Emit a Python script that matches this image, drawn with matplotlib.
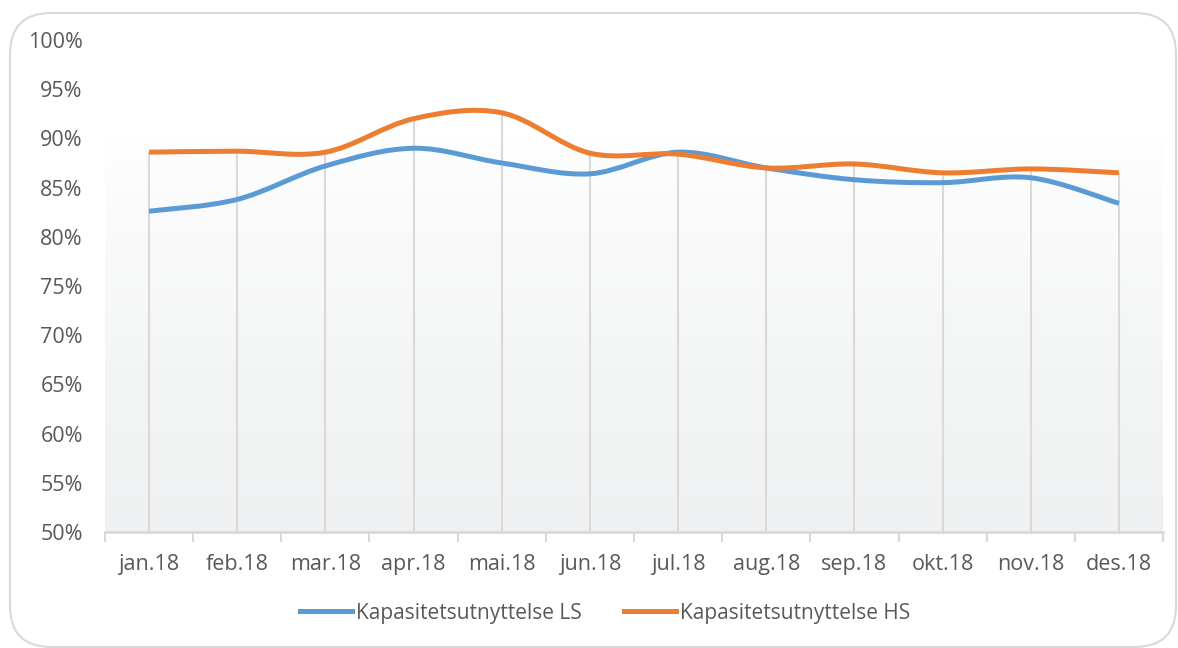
import numpy as np
import matplotlib
matplotlib.use("Agg")
import matplotlib.pyplot as plt
from matplotlib.path import Path
from matplotlib.patches import PathPatch, FancyBboxPatch
from matplotlib.lines import Line2D

categories = ["jan.18", "feb.18", "mar.18", "apr.18", "mai.18", "jun.18",
              "jul.18", "aug.18", "sep.18", "okt.18", "nov.18", "des.18"]
ls_values = [82.6, 83.8, 87.2, 89.0, 87.5, 86.4, 88.6, 87.0, 85.8, 85.5, 86.0, 83.4]
hs_values = [88.6, 88.7, 88.6, 92.0, 92.6, 88.5, 88.4, 87.0, 87.4, 86.5, 86.9, 86.5]
series_names = ["Kapasitetsutnyttelse LS", "Kapasitetsutnyttelse HS"]
yticks = [50, 55, 60, 65, 70, 75, 80, 85, 90, 95, 100]

BLUE = "#5B9BD5"
ORANGE = "#ED7D31"
TXT = "#595959"
GRID = "#d9d9d9"

plt.rcParams["font.family"] = ["Open Sans", "DejaVu Sans"]

W, H = 1178, 648
fig = plt.figure(figsize=(W / 100, H / 100), dpi=100)

# outer rounded border
border = FancyBboxPatch((10 / W, 1 / H), 1166 / W, 634 / H,
                        boxstyle="round,pad=0,rounding_size=0.035",
                        transform=fig.transFigure, fill=False,
                        edgecolor="#d9d9d9", linewidth=1.5,
                        mutation_aspect=W / H)
fig.patches.append(border)

ax = fig.add_axes([105 / W, (H - 532) / H, (1163 - 105) / W, (532 - 40) / H])
x = np.arange(len(categories))
ax.set_xlim(-0.5, len(categories) - 0.5)
ax.set_ylim(50, 100)

# gradient background
grad = np.linspace(0, 1, 256).reshape(-1, 1)
top_c = np.array([1.0, 1.0, 1.0])
bot_c = np.array([0xee, 0xf0, 0xf1]) / 255.0
img = top_c + (bot_c - top_c) * (grad ** 0.8)
img = img.reshape(256, 1, 3)
ax.imshow(img, extent=[-0.5, len(categories) - 0.5, 50, 90.5], aspect="auto",
          zorder=0, origin="upper", interpolation="bilinear")

# drop lines
tops = np.maximum(ls_values, hs_values)
ax.vlines(x, 50, tops, colors=GRID, linewidth=1.5, zorder=1)


def smooth_path(xs, ys):
    xs = np.asarray(xs, float)
    ys = np.asarray(ys, float)
    n = len(xs)
    verts = [(xs[0], ys[0])]
    codes = [Path.MOVETO]
    for i in range(n - 1):
        i0 = max(i - 1, 0)
        i3 = min(i + 2, n - 1)
        c1 = (xs[i] + (xs[i + 1] - xs[i0]) / 6, ys[i] + (ys[i + 1] - ys[i0]) / 6)
        c2 = (xs[i + 1] - (xs[i3] - xs[i]) / 6, ys[i + 1] - (ys[i3] - ys[i]) / 6)
        verts += [c1, c2, (xs[i + 1], ys[i + 1])]
        codes += [Path.CURVE4] * 3
    return Path(verts, codes)


for vals, col in [(ls_values, BLUE), (hs_values, ORANGE)]:
    p = PathPatch(smooth_path(x, vals), facecolor="none", edgecolor=col,
                  linewidth=3.6, capstyle="butt", joinstyle="round", zorder=3)
    ax.add_patch(p)

for s in ["top", "right", "left"]:
    ax.spines[s].set_visible(False)
ax.spines["bottom"].set_color(GRID)
ax.spines["bottom"].set_linewidth(2)
ax.spines["bottom"].set_zorder(2)

ax.set_xticks(x)
ax.set_xticklabels(categories)
ax.set_xticks(np.arange(-0.5, len(categories)), minor=True)
ax.tick_params(axis="x", which="major", length=0, pad=16, labelsize=15.5, labelcolor=TXT)
ax.tick_params(axis="x", which="minor", length=7, width=1.5, color=GRID)
ax.set_yticks(yticks)
ax.set_yticklabels([f"{v}%" for v in yticks])
ax.tick_params(axis="y", length=0, pad=16, labelsize=15.5, labelcolor=TXT)

handles = [Line2D([], [], color=BLUE, linewidth=3.6),
           Line2D([], [], color=ORANGE, linewidth=3.6)]
leg = fig.legend(handles, series_names, loc="center", ncol=2,
                 bbox_to_anchor=(605 / W, (H - 613) / H), frameon=False,
                 handlelength=2.5, handletextpad=0.2, columnspacing=2.0,
                 prop={"size": 15})
for t in leg.get_texts():
    t.set_color(TXT)

fig.savefig("out.png", dpi=100, facecolor="white")
